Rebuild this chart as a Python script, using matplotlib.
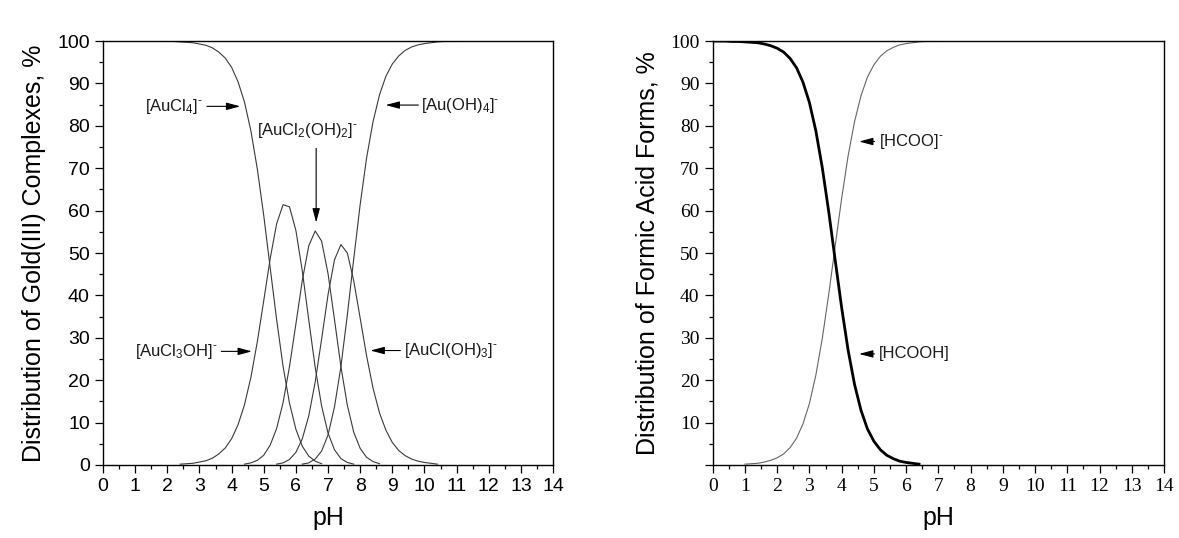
# plot.py
import numpy as np
import matplotlib
matplotlib.use('Agg')
import matplotlib.pyplot as plt
from matplotlib.ticker import MultipleLocator, FixedLocator, FixedFormatter

# ── Data ───────────────────────────────────────────────────────────────────────
PH_AU = [1.8, 2.0, 2.2, 2.4, 2.6, 2.8, 3.0, 3.2, 3.4, 3.6, 3.8, 4.0, 4.2, 4.4, 4.6, 4.8,
         5.0, 5.2, 5.4, 5.6, 5.8, 6.0, 6.2, 6.4, 6.6, 6.8, 7.0, 7.2, 7.4, 7.6, 7.8, 8.0,
         8.2, 8.4, 8.6, 8.8, 9.0, 9.2, 9.4, 9.6, 9.8, 10.0, 10.2, 10.4, 10.6, 10.8, 11.0]

AUCL4 = [100.0, 99.9, 99.9, 99.8, 99.7, 99.6, 99.3, 99.0, 98.4, 97.4, 96.0, 93.8, 90.4, 85.6,
         78.8, 69.8, 58.8, 46.5, 34.3, 23.3, 14.6, 8.4, 4.4, 2.1, 0.9, 0.3, 0.1,
         0, 0, 0, 0, 0, 0, 0, 0, 0, 0, 0, 0, 0, 0, 0, 0, 0, 0, 0, 0]
AUCL3OH = [0.0, 0.1, 0.1, 0.2, 0.3, 0.4, 0.7, 1.0, 1.6, 2.6, 4.0, 6.2, 9.5, 14.2, 20.7, 29.1,
           38.8, 48.7, 56.9, 61.4, 60.9, 55.3, 45.7, 34.2, 23.0, 13.9, 7.5, 3.6, 1.5, 0.6,
           0.2, 0.1, 0, 0, 0, 0, 0, 0, 0, 0, 0, 0, 0, 0, 0, 0, 0]
AUCL2OH2 = [0, 0, 0, 0, 0, 0, 0, 0, 0, 0, 0, 0,
            0.1, 0.2, 0.5, 1.1, 2.3, 4.7, 8.6, 14.7, 23.2, 33.3, 43.6, 51.7, 55.2, 52.8,
            45.1, 34.3, 23.2, 14.1, 7.7, 3.9, 1.8, 0.8, 0.3, 0.1, 0.1,
            0, 0, 0, 0, 0, 0, 0, 0, 0, 0]
AUCLOH3 = [0, 0, 0, 0, 0, 0, 0, 0, 0, 0, 0, 0, 0, 0, 0, 0, 0,
           0.1, 0.2, 0.5, 1.3, 3.0, 6.2, 11.6, 19.6, 29.7, 40.2, 48.4, 52.0, 50.0, 43.4,
           34.6, 25.7, 18.1, 12.3, 8.2, 5.3, 3.4, 2.2, 1.4, 0.9, 0.6, 0.4, 0.2, 0.1, 0.1, 0.1]
AUOH4 = [0, 0, 0, 0, 0, 0, 0, 0, 0, 0, 0, 0, 0, 0, 0, 0, 0, 0, 0, 0, 0,
         0.1, 0.2, 0.5, 1.4, 3.3, 7.1, 13.7, 23.2, 35.4, 48.7, 61.5, 72.5, 81.0, 87.3,
         91.7, 94.6, 96.5, 97.8, 98.6, 99.1, 99.4, 99.6, 99.8, 99.9, 99.9, 99.9]

PH_HCOOH = [0.0, 0.2, 0.4, 0.6, 0.8, 1.0, 1.2, 1.4, 1.6, 1.8, 2.0, 2.2, 2.4, 2.6, 2.8, 3.0,
            3.2, 3.4, 3.6, 3.8, 4.0, 4.2, 4.4, 4.6, 4.8, 5.0, 5.2, 5.4, 5.6, 5.8, 6.0, 6.2,
            6.4, 6.6, 6.8, 7.0, 7.2]
HCOOH = [100.0, 100.0, 100.0, 99.9, 99.9, 99.8, 99.7, 99.6, 99.3, 98.9, 98.3, 97.4, 95.9,
         93.7, 90.3, 85.5, 78.8, 70.1, 59.7, 48.3, 37.1, 27.1, 19.0, 12.9, 8.5, 5.6, 3.6,
         2.3, 1.5, 0.9, 0.6, 0.4, 0.2, 0.1, 0.1, 0.1, 0.0]
HCOO = [0.0, 0.0, 0.0, 0.1, 0.1, 0.2, 0.3, 0.4, 0.7, 1.1, 1.7, 2.6, 4.1, 6.3, 9.7, 14.5,
        21.2, 29.9, 40.3, 51.7, 62.9, 72.9, 81.0, 87.1, 91.5, 94.4, 96.4, 97.7, 98.5, 99.1,
        99.4, 99.6, 99.8, 99.9, 99.9, 99.9, 100.0]

# ── Style ──────────────────────────────────────────────────────────────────────
MIN_SHOWN = 0.15          # tails below this were not drawn in the original

plt.rcParams['font.family'] = 'sans-serif'
plt.rcParams['font.sans-serif'] = ['Liberation Sans', 'DejaVu Sans']
plt.rcParams['font.serif'] = ['Liberation Serif', 'DejaVu Serif']
plt.rcParams['mathtext.fontset'] = 'custom'
plt.rcParams['mathtext.rm'] = 'Liberation Sans'
plt.rcParams['mathtext.default'] = 'regular'

TXT = '#1a1a1a'
SUP = r'$^{\text{-}}$'
ARROW = dict(arrowstyle='-|>,head_length=0.6,head_width=0.16', mutation_scale=14,
             lw=0.8, color='black', shrinkA=0, shrinkB=0)


def style_axes(ax, tick_family, ylabel, label_zero=True):
    ax.set_xlim(0, 14)
    ax.set_ylim(0, 100)

    xt = list(range(0, 15))
    yt = list(range(0, 101, 10))
    ylabs = [str(v) for v in yt]
    if not label_zero:
        ylabs[0] = ''
    ax.xaxis.set_major_locator(FixedLocator(xt))
    ax.xaxis.set_major_formatter(FixedFormatter([str(v) for v in xt]))
    ax.yaxis.set_major_locator(FixedLocator(yt))
    ax.yaxis.set_major_formatter(FixedFormatter(ylabs))
    ax.xaxis.set_minor_locator(MultipleLocator(0.5))
    ax.yaxis.set_minor_locator(MultipleLocator(5))

    ax.tick_params(which='both', direction='out', top=False, right=False, width=0.9, colors='black')
    ax.tick_params(which='major', length=5.5, pad=4, labelsize=14, labelfontfamily=tick_family)
    ax.tick_params(which='minor', length=3)
    for s in ax.spines.values():
        s.set_linewidth(1.0)

    ax.set_xlabel('pH', fontsize=18, labelpad=8)
    ax.set_ylabel(ylabel, fontsize=18, labelpad=8)


def draw(ax, x, y, **kw):
    x = np.asarray(x)
    y = np.asarray(y)
    m = y >= MIN_SHOWN
    ax.plot(x[m], y[m], **kw)


def label(ax, text, tip, tail, text_x, ha):
    ax.annotate('', xy=tip, xytext=tail, arrowprops=ARROW)
    ax.text(text_x, tail[1], text, ha=ha, va='center', fontsize=12, color=TXT)


fig = plt.figure(figsize=(11.79, 5.38), dpi=100)

# ── Left: gold(III) chloro-hydroxo complexes ──────────────────────────────────
ax1 = fig.add_axes([0.0874, 0.1357, 0.3817, 0.788])
for series in (AUCL4, AUCL3OH, AUCL2OH2, AUCLOH3, AUOH4):
    draw(ax1, PH_AU, series, color='#3a3a3a', lw=0.8)
style_axes(ax1, 'Liberation Sans', 'Distribution of Gold(III) Complexes, %')

label(ax1, r'[AuCl$_4$]' + SUP, (4.27, 84.6), (3.23, 84.6), 3.12, 'right')
label(ax1, r'[Au(OH)$_4$]' + SUP, (8.79, 84.9), (9.81, 84.9), 9.9, 'left')
label(ax1, r'[AuCl$_3$OH]' + SUP, (4.63, 26.8), (3.68, 26.8), 3.58, 'right')
label(ax1, r'[AuCl(OH)$_3$]' + SUP, (8.32, 27.0), (9.25, 27.0), 9.35, 'left')
ax1.annotate('', xy=(6.63, 57.2), xytext=(6.63, 74.7), arrowprops=ARROW)
ax1.text(4.8, 79.0, r'[AuCl$_2$(OH)$_2$]' + SUP, ha='left', va='center', fontsize=12, color=TXT)

# ── Right: formic acid forms ───────────────────────────────────────────────────
ax2 = fig.add_axes([0.6045, 0.1357, 0.3828, 0.788])
draw(ax2, PH_HCOOH, HCOO, color='#666666', lw=0.8)
draw(ax2, PH_HCOOH, HCOOH, color='black', lw=2.0)
style_axes(ax2, 'Liberation Serif', 'Distribution of Formic Acid Forms, %', label_zero=False)

label(ax2, '[HCOO]' + SUP, (4.54, 76.3), (5.02, 76.3), 5.15, 'left')
label(ax2, '[HCOOH]', (4.54, 26.2), (5.02, 26.2), 5.15, 'left')

fig.savefig('out.png', dpi=100)
print("Saved: out.png")
